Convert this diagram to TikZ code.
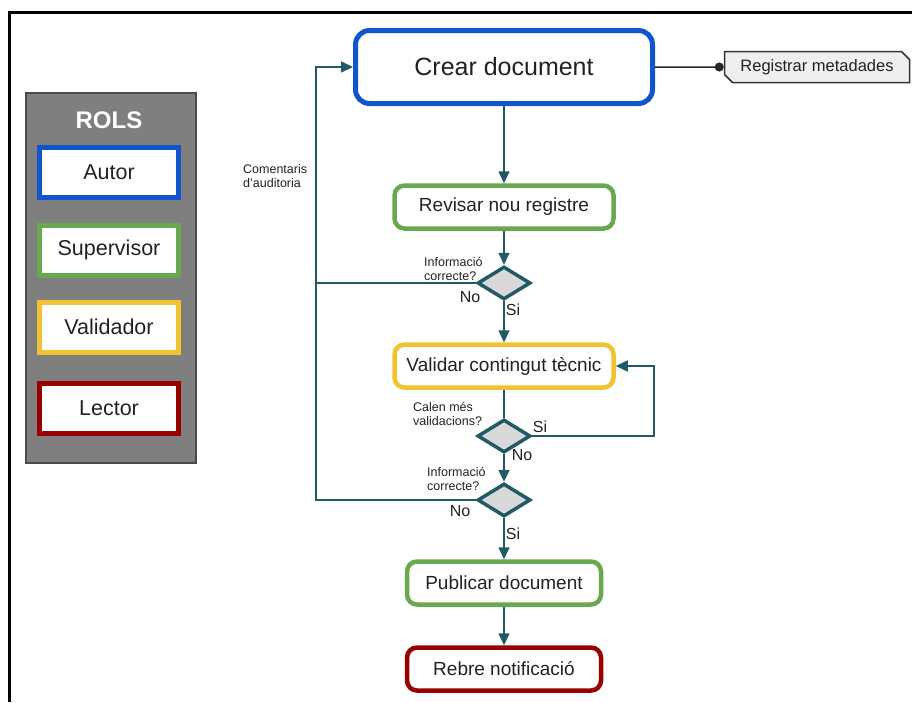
\documentclass[tikz,border=0pt]{standalone}
\usepackage{fontspec}
\setmainfont{Liberation Sans}
\usepackage{tikz}
\usetikzlibrary{shapes.geometric,shapes.misc,arrows.meta,positioning}
\usepackage{xcolor}

\definecolor{autorblue}{HTML}{1155CC}
\definecolor{supgreen}{HTML}{6AA84F}
\definecolor{valyellow}{HTML}{F1C232}
\definecolor{lectred}{HTML}{990000}
\definecolor{linkcol}{HTML}{215A65}
\definecolor{decgray}{HTML}{D9D9D9}
\definecolor{panelgray}{HTML}{7F7F7F}
\definecolor{panelline}{HTML}{4A4A4A}
\definecolor{regfill}{HTML}{EFEFEF}
\definecolor{txt}{HTML}{222222}

\tikzset{
  task/.style={draw, rounded corners=10pt, line width=4.5pt, fill=white, text=txt,
    minimum width=219pt, minimum height=43pt, font=\fontsize{19}{22}\selectfont},
  rolebox/.style={draw, line width=5pt, fill=white, text=txt,
    minimum width=139pt, minimum height=50pt, font=\fontsize{21.5}{24}\selectfont},
  decision/.style={diamond, draw=linkcol, line width=3.5pt, fill=decgray,
    minimum width=53pt, minimum height=33pt, inner sep=0pt},
  regbox/.style={chamfered rectangle, chamfered rectangle corners={north east,south west},
    chamfered rectangle xsep=4pt, chamfered rectangle ysep=4pt,
    draw=black!80, line width=1.5pt, fill=regfill, text=txt,
    minimum width=185pt, minimum height=31pt, font=\fontsize{16.5}{19}\selectfont},
  link/.style={draw=linkcol, line width=1.6pt},
  question/.style={font=\fontsize{12.5}{14}\selectfont, align=left, text=txt, inner sep=0pt},
  answer/.style={font=\fontsize{16}{18}\selectfont, text=txt, inner sep=0pt}
}

\begin{document}
\begin{tikzpicture}[x=1pt, y=-1pt, >={Triangle[length=12pt,width=11pt]}]
\useasboundingbox (0,0) rectangle (912,702);
\draw[line width=3pt] (9,702) -- (9,12) -- (912,12);

% rols
\node[draw=panelline, fill=panelgray, line width=1.5pt, minimum width=170pt, minimum height=370pt] (panel) at (111,278) {};
\node[font=\bfseries\fontsize{24}{26}\selectfont, text=white] (rols) at (109,120) {ROLS};
\node[rolebox, draw=autorblue] (autor) at (109,172) {Autor};
\node[rolebox, draw=supgreen] (superv) at (109,250) {Supervisor};
\node[rolebox, draw=valyellow] (validador) at (109,327) {Validador};
\node[rolebox, draw=lectred] (lector) at (109,408) {Lector};

% flux
\node[task, draw=autorblue, minimum width=297pt, minimum height=73pt, rounded corners=14pt,
  line width=5pt, font=\fontsize{25}{28}\selectfont] (crear) at (504,67) {Crear document};
\node[regbox] (reg) at (817,67) {Registrar metadades};
\node[task, draw=supgreen] (rev) at (504,207) {Revisar nou registre};
\node[decision] (d1) at (504,283) {};
\node[task, draw=valyellow] (val) at (504,366) {Validar contingut tècnic};
\node[decision] (d2) at (504,436) {};
\node[decision] (d3) at (504,500) {};
\node[task, draw=supgreen, minimum width=194pt] (pub) at (504,583) {Publicar document};
\node[task, draw=lectred, minimum width=194pt] (rebre) at (504,669) {Rebre notificació};

\node[question, anchor=west] (q1) at (424,269) {Informació\\correcte?};
\node[question, anchor=west] (q2) at (413,414) {Calen més\\validacions?};
\node[question, anchor=west] (q3) at (427,479) {Informació\\correcte?};
\node[question, anchor=west] (coment) at (243,176) {Comentaris\\d'auditoria};

\node[answer] (no1) at (470,297) {No};
\node[answer] (si1) at (513,310) {Si};
\node[answer] (si2) at (540,427) {Si};
\node[answer] (no2) at (522,455) {No};
\node[answer] (no3) at (460,511) {No};
\node[answer] (si3) at (513,534) {Si};

\coordinate (fbtop) at (316,283);
\coordinate (fbbot) at (316,500);
\coordinate (loopr) at (654,436);

\draw[line width=1.5pt, draw=black!85, -{Circle[length=9pt]}] (crear) -- (reg);
\draw[link,->] (crear) -- (rev);
\draw[link,->] (rev) -- (d1);
\draw[link,->] (d1) -- (val);
\draw[link] (val) -- (d2);
\draw[link,->] (d2) -- (d3);
\draw[link,->] (d3) -- (pub);
\draw[link,->] (pub) -- (rebre);
\draw[link,->] (d1.west) -- (fbtop) |- (crear.west);
\draw[link] (d3.west) -- (fbbot) -- (fbtop);
\draw[link,->] (d2.east) -- (loopr) |- (val.east);
\end{tikzpicture}
\end{document}
